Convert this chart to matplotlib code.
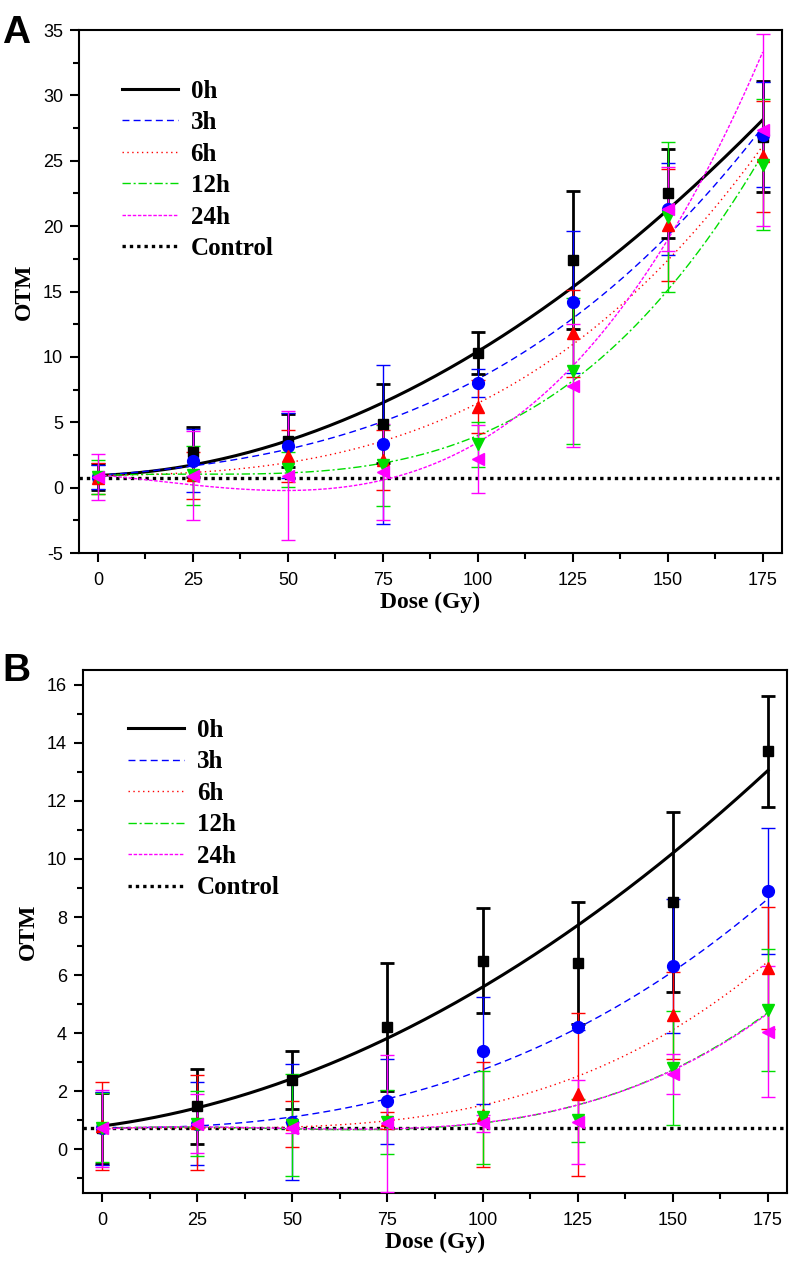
import numpy as np
import matplotlib
matplotlib.use("Agg")
import matplotlib.pyplot as plt
from matplotlib.lines import Line2D
from matplotlib.ticker import MultipleLocator

dose = [0, 25, 50, 75, 100, 125, 150, 175]
labels = ["0h", "3h", "6h", "12h", "24h"]

# panel A: means, error bars, fitted curve read at each dose
a_mean = [
    [0.8, 2.7, 3.6, 4.9, 10.3, 17.4, 22.5, 26.85],
    [0.8, 2.05, 3.2, 3.3, 8.0, 14.2, 21.3, 27.0],
    [0.7, 0.95, 2.4, 2.1, 6.2, 11.8, 20.1, 25.35],
    [0.8, 0.93, 1.4, 1.7, 3.3, 8.9, 20.7, 24.7],
    [0.8, 0.9, 0.92, 1.2, 2.2, 7.8, 21.3, 27.35],
]
a_err = [
    [1.0, 1.92, 2.0, 3.0, 1.6, 5.3, 3.4, 4.25],
    [0.9, 2.4, 2.5, 6.1, 1.1, 5.4, 3.5, 4.0],
    [1.2, 1.8, 2.0, 2.3, 2.0, 3.3, 4.3, 4.25],
    [1.3, 2.27, 1.33, 3.1, 1.75, 5.6, 5.7, 5.0],
    [1.75, 3.4, 4.92, 3.7, 2.6, 4.7, 3.2, 7.35],
]
a_fit = [
    [0.9, 1.8, 3.6, 6.5, 10.3, 15.4, 21.3, 28.1],
    [0.9, 1.7, 3.0, 5.0, 8.3, 12.8, 19.5, 27.5],
    [0.9, 1.2, 2.0, 3.5, 6.3, 11.1, 17.4, 26.1],
    [0.9, 1.0, 1.2, 1.9, 3.8, 8.3, 15.1, 25.5],
    [0.9, 0.3, -0.2, 0.9, 3.0, 8.9, 19.8, 33.0],
]
a_control = 0.75

# panel B
b_mean = [
    [0.72, 1.48, 2.4, 4.2, 6.5, 6.4, 8.53, 13.7],
    [0.72, 0.88, 0.95, 1.65, 3.4, 4.2, 6.31, 8.9],
    [0.8, 0.92, 0.88, 1.0, 1.2, 1.9, 4.62, 6.24],
    [0.75, 0.88, 0.84, 0.95, 1.1, 1.0, 2.8, 4.8],
    [0.73, 0.88, 0.75, 0.9, 0.9, 0.95, 2.6, 4.05],
]
b_err = [
    [1.22, 1.3, 1.0, 2.2, 1.8, 2.1, 3.1, 1.9],
    [1.25, 1.43, 2.0, 1.45, 1.85, 0.1, 2.3, 2.18],
    [1.52, 1.63, 0.8, 0.3, 1.8, 2.8, 1.5, 2.1],
    [1.2, 1.12, 1.77, 1.1, 1.6, 0.75, 1.95, 2.1],
    [1.33, 1.02, 0.2, 2.35, 0.3, 1.45, 0.68, 2.25],
]
b_fit = [
    [0.8, 1.45, 2.4, 3.85, 5.6, 7.7, 10.2, 13.05],
    [0.75, 0.8, 1.15, 1.75, 2.7, 4.15, 6.2, 8.6],
    [0.72, 0.74, 0.8, 1.05, 1.4, 2.45, 4.3, 6.4],
    [0.72, 0.72, 0.72, 0.74, 0.9, 1.46, 2.8, 4.7],
    [0.72, 0.72, 0.72, 0.74, 0.95, 1.5, 2.7, 4.7],
]
b_control = 0.72

colors = ["black", "#0000ff", "#ff0000", "#00dd00", "#ff00ff"]
markers = ["s", "o", "^", "v", "<"]
msizes = [7, 8.5, 8.5, 8.5, 8.5]
styles = ["-", (0, (5, 3)), (0, (1, 2.5)), (0, (6, 2, 1.5, 2)), (0, (2.5, 1.2))]
widths = [2.2, 1.0, 1.0, 1.0, 1.0]

plt.rcParams["font.family"] = ["Liberation Sans", "DejaVu Sans"]
plt.rcParams["axes.unicode_minus"] = False
serif = ["Liberation Serif", "DejaVu Serif"]

fig = plt.figure(figsize=(7.92, 12.62), dpi=100)
axA = fig.add_axes([0.0997, 0.5618, 0.8873, 0.4144])
axB = fig.add_axes([0.1048, 0.0547, 0.8889, 0.4143])


def draw(ax, means, errs, fits, control, ylim, ymajor, legend_xy):
    xs = np.linspace(0, 175, 300)
    for i in range(len(labels)):
        c = np.polyfit(dose, fits[i], 3)
        ax.plot(xs, np.polyval(c, xs), color=colors[i], ls=styles[i],
                lw=widths[i], zorder=3)
    for i in range(len(labels)):
        lw = 2.0 if i == 0 else 1.0
        ax.errorbar(dose, means[i], yerr=errs[i], fmt=markers[i],
                    color=colors[i], ms=msizes[i], capsize=5,
                    elinewidth=lw, capthick=lw, zorder=4)
    ax.axhline(control, color="black", ls=(0, (1, 1.2)), lw=2.4, zorder=2)

    ax.set_xlim(-5, 180)
    ax.set_ylim(*ylim)
    ax.xaxis.set_major_locator(MultipleLocator(25))
    ax.xaxis.set_minor_locator(MultipleLocator(12.5))
    ax.yaxis.set_major_locator(MultipleLocator(ymajor))
    ax.yaxis.set_minor_locator(MultipleLocator(ymajor / 2))
    ax.tick_params(which="both", direction="out", top=False, right=False,
                   labelsize=13, width=1.5, pad=5)
    ax.tick_params(axis="x", which="both", pad=7)
    ax.tick_params(which="major", length=6.5)
    ax.tick_params(which="minor", length=4)
    for s in ax.spines.values():
        s.set_linewidth(1.5)
    ax.set_xlabel("Dose (Gy)", family=serif, fontweight="bold", fontsize=17,
                  labelpad=2)
    ax.set_ylabel("OTM", family=serif, fontweight="bold", fontsize=17,
                  labelpad=6)

    handles = [Line2D([], [], color=colors[i], ls=styles[i], lw=widths[i])
               for i in range(len(labels))]
    handles.append(Line2D([], [], color="black", ls=(0, (1, 1.2)), lw=2.4))
    ax.legend(handles, labels + ["Control"], loc="upper left",
              bbox_to_anchor=legend_xy, frameon=False,
              handlelength=2.25, labelspacing=0.34, handletextpad=0.5,
              prop={"family": serif, "weight": "bold", "size": 18})


draw(axA, a_mean, a_err, a_fit, a_control, (-5, 35), 5, (0.029, 0.948))
draw(axB, b_mean, b_err, b_fit, b_control, (-1.5, 16.5), 2, (0.032, 0.95))

fig.text(0.003, 0.974, "A", fontsize=28, fontweight="bold", va="center")
fig.text(0.003, 0.468, "B", fontsize=28, fontweight="bold", va="center")

fig.savefig("out.png", dpi=100)
